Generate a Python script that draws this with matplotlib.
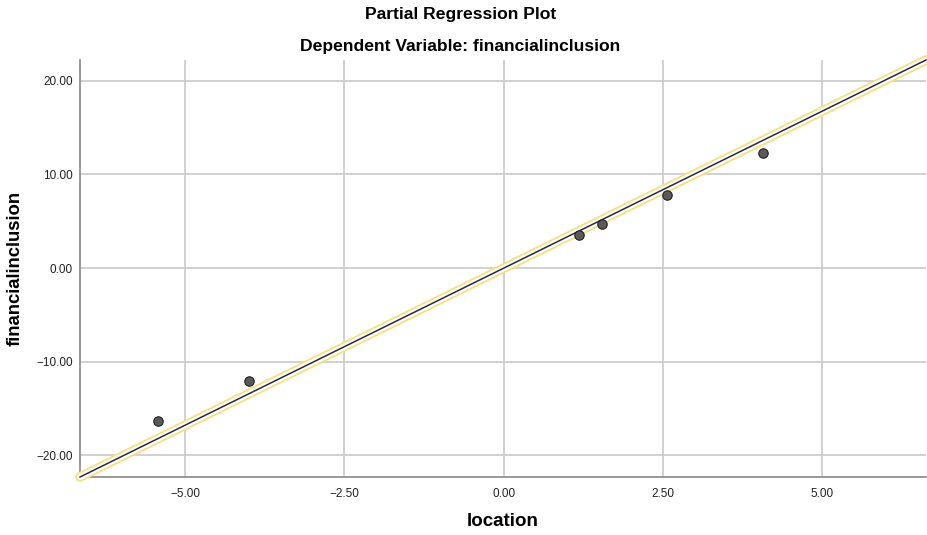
import numpy as np
import matplotlib
matplotlib.use('Agg')
import matplotlib.pyplot as plt

# partial residuals
location = [-5.42, -4.00, 1.18, 1.54, 2.57, 4.07]
finclusion = [-16.3, -12.03, 3.55, 4.69, 7.75, 12.27]

# fit line end points
fit_x = [-6.65, 6.63]
fit_y = [-22.3, 22.2]

x_ticks = [-5.0, -2.5, 0.0, 2.5, 5.0]
y_ticks = [-20.0, -10.0, 0.0, 10.0, 20.0]

plt.rcParams['font.family'] = ['Liberation Sans', 'DejaVu Sans']

fig = plt.figure(figsize=(9.28, 5.35), dpi=100)
ax = fig.add_axes([80/928, 1 - 477/535, 846/928, 417/535])

ax.set_xlim(fit_x[0], fit_x[1])
ax.set_ylim(fit_y[0], fit_y[1])

ax.set_xticks(x_ticks)
ax.set_yticks(y_ticks)
ax.set_xticklabels([('%.2f' % v).replace('-', '\u2212') for v in x_ticks])
ax.set_yticklabels([('%.2f' % v).replace('-', '\u2212') for v in y_ticks])
ax.tick_params(axis='x', length=0, labelsize=8.5, colors='#222222', pad=8)
ax.tick_params(axis='y', length=0, labelsize=8.5, colors='#222222', pad=5)

ax.grid(True, color='#cacaca', linewidth=1.2)
ax.set_axisbelow(True)
for s in ['top', 'right']:
    ax.spines[s].set_visible(False)
for s in ['left', 'bottom']:
    ax.spines[s].set_color('#888888')
    ax.spines[s].set_linewidth(1.2)

# yellow halo line with dark core
ax.plot(fit_x, fit_y, color='#f8e08a', linewidth=7, solid_capstyle='round', zorder=3, clip_on=False)
ax.plot(fit_x, fit_y, color='white', linewidth=4.2, solid_capstyle='round', zorder=3, clip_on=False)
ax.plot(fit_x, fit_y, color='#2a2a3a', linewidth=1.1, zorder=4, clip_on=False)

ax.scatter(location, finclusion, s=46, color='#5a5a5a', edgecolors='#222222', linewidths=0.8, zorder=5)

fig.text(461/928, 1 - 15/535, 'Partial Regression Plot', ha='center', va='center',
         fontsize=12.6, fontweight='bold')
fig.text(460/928, 1 - 47/535, 'Dependent Variable: financialinclusion', ha='center', va='center',
         fontsize=12.6, fontweight='bold')
fig.text(503/928, 1 - 522/535, 'location', ha='center', va='center',
         fontsize=13.5, fontweight='bold')
fig.text(15/928, 1 - 268/535, 'financialinclusion', ha='center', va='center', rotation=90,
         fontsize=13.3, fontweight='bold')

fig.savefig('out.png', dpi=100)
plt.close()
